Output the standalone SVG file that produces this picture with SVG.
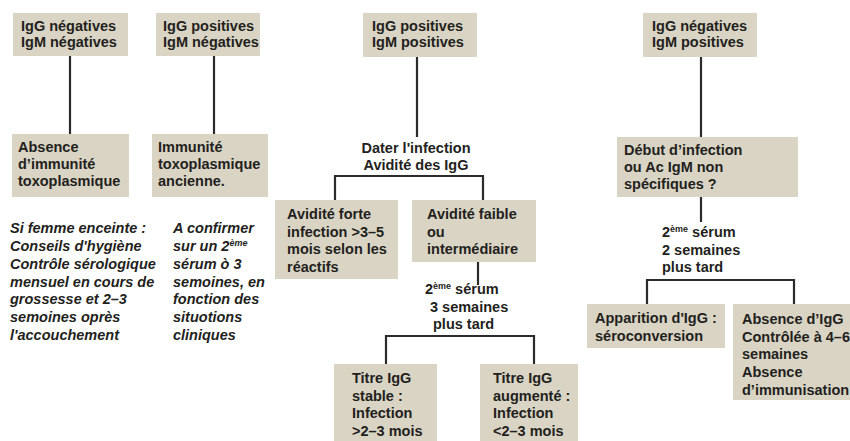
<svg xmlns="http://www.w3.org/2000/svg" width="850" height="441" viewBox="0 0 850 441">
<style>
.box{fill:#d9d4c3;}
.t{font-family:"Liberation Sans",Arial,Helvetica,sans-serif;font-weight:bold;font-size:14.5px;fill:#231f20;}
.i{font-style:italic;}
.sup{font-size:9px;}
.ln{stroke:#2b2b2b;stroke-width:2.2;fill:none;}
</style>
<rect width="850" height="441" fill="#ffffff"/>
<g id="connectors">
<path class="ln" d="M70 56V134"/>
<path class="ln" d="M214 56V134"/>
<path class="ln" d="M417 57V137"/>
<path class="ln" d="M335 200V176H483V200"/>
<path class="ln" d="M478 262V285"/>
<path class="ln" d="M386 364V336H534V364"/>
<path class="ln" d="M701 57V137"/>
<path class="ln" d="M701 197V222"/>
<path class="ln" d="M647 304V280H794V304"/>
</g>
<g id="n-igg-neg-igm-neg">
<rect class="box" x="13" y="13" width="115" height="43"/>
<text class="t" x="21" y="31">IgG négatives</text>
<text class="t" x="21" y="47">IgM négatives</text>
</g>
<g id="n-igg-pos-igm-neg">
<rect class="box" x="156" y="13" width="104" height="43"/>
<text class="t" x="163" y="31">IgG positives</text>
<text class="t" x="163" y="47">IgM négatives</text>
</g>
<g id="n-igg-pos-igm-pos">
<rect class="box" x="363" y="13" width="114" height="44"/>
<text class="t" x="372" y="31">IgG positives</text>
<text class="t" x="372" y="47">IgM positives</text>
</g>
<g id="n-igg-neg-igm-pos">
<rect class="box" x="643" y="13" width="114" height="44"/>
<text class="t" x="652" y="31">IgG négatives</text>
<text class="t" x="652" y="47">IgM positives</text>
</g>
<g id="n-absence-immunite">
<rect class="box" x="12" y="134" width="117" height="63"/>
<text class="t" x="18" y="152">Absence</text>
<text class="t" x="18" y="169">d’immunité</text>
<text class="t" x="18" y="186">toxoplasmique</text>
</g>
<g id="n-immunite-ancienne">
<rect class="box" x="152" y="134" width="116" height="63"/>
<text class="t" x="158" y="152">Immunité</text>
<text class="t" x="158" y="169">toxoplasmique</text>
<text class="t" x="158" y="186">ancienne.</text>
</g>
<g id="n-note-femme">
<text class="t i" x="10" y="233">Si femme enceinte :</text>
<text class="t i" x="10" y="251">Conseils d'hygiène</text>
<text class="t i" x="10" y="268.5">Contrôle sérologique</text>
<text class="t i" x="10" y="286.5">mensuel en cours de</text>
<text class="t i" x="10" y="304">grossesse et 2–3</text>
<text class="t i" x="10" y="322">semoines oprès</text>
<text class="t i" x="10" y="340">l'accouchement</text>
</g>
<g id="n-note-confirmer">
<text class="t i" x="173" y="233">A confirmer</text>
<text class="t i" x="173" y="251">sur un 2<tspan class="sup" dy="-5">ème</tspan></text>
<text class="t i" x="173" y="268.5">sérum ò 3</text>
<text class="t i" x="173" y="286.5">semoines, en</text>
<text class="t i" x="173" y="304">fonction des</text>
<text class="t i" x="173" y="322">situotions</text>
<text class="t i" x="173" y="340">cliniques</text>
</g>
<g id="n-dater">
<text class="t" x="416" y="153" text-anchor="middle">Dater l'infection</text>
<text class="t" x="416" y="170" text-anchor="middle">Avidité des IgG</text>
</g>
<g id="n-avidite-forte">
<rect class="box" x="275" y="200" width="123" height="79"/>
<text class="t" x="287" y="219">Avidité forte</text>
<text class="t" x="287" y="236.5">infection &gt;3–5</text>
<text class="t" x="287" y="254">mois selon les</text>
<text class="t" x="287" y="271.5">réactifs</text>
</g>
<g id="n-avidite-faible">
<rect class="box" x="412" y="200" width="124" height="62"/>
<text class="t" x="427" y="219">Avidité faible</text>
<text class="t" x="427" y="236.5">ou</text>
<text class="t" x="427" y="254">intermédiaire</text>
</g>
<g id="n-serum-3sem">
<text class="t" x="425" y="294">2<tspan class="sup" dy="-5">ème</tspan><tspan dy="5"> sérum</tspan></text>
<text class="t" x="430" y="311.5">3 semaines</text>
<text class="t" x="433" y="329">plus tard</text>
</g>
<g id="n-titre-stable">
<rect class="box" x="334" y="364" width="103" height="80"/>
<text class="t" x="352" y="383">Titre IgG</text>
<text class="t" x="352" y="400.5">stable :</text>
<text class="t" x="352" y="418">Infection</text>
<text class="t" x="352" y="435.5">&gt;2–3 mois</text>
</g>
<g id="n-titre-augmente">
<rect class="box" x="480" y="364" width="98" height="80"/>
<text class="t" x="493" y="383">Titre IgG</text>
<text class="t" x="493" y="400.5">augmenté :</text>
<text class="t" x="493" y="418">Infection</text>
<text class="t" x="493" y="435.5">&lt;2–3 mois</text>
</g>
<g id="n-debut-infection">
<rect class="box" x="617" y="137" width="181" height="60"/>
<text class="t" x="624" y="155">Début d’infection</text>
<text class="t" x="624" y="172">ou Ac IgM non</text>
<text class="t" x="624" y="189">spécifiques ?</text>
</g>
<g id="n-serum-2sem">
<text class="t" x="662" y="237">2<tspan class="sup" dy="-5">ème</tspan><tspan dy="5"> sérum</tspan></text>
<text class="t" x="662" y="255">2 semaines</text>
<text class="t" x="662" y="272">plus tard</text>
</g>
<g id="n-apparition">
<rect class="box" x="587" y="304" width="138" height="44"/>
<text class="t" x="595" y="323">Apparition d'IgG :</text>
<text class="t" x="595" y="341">séroconversion</text>
</g>
<g id="n-absence-igg">
<rect class="box" x="733" y="304" width="120" height="96"/>
<text class="t" x="742" y="324">Absence d’IgG</text>
<text class="t" x="742" y="341.7">Contrôlée à 4–6</text>
<text class="t" x="742" y="359.4">semaines</text>
<text class="t" x="742" y="377.1">Absence</text>
<text class="t" x="742" y="394.8">d’immunisation</text>
</g>
</svg>
